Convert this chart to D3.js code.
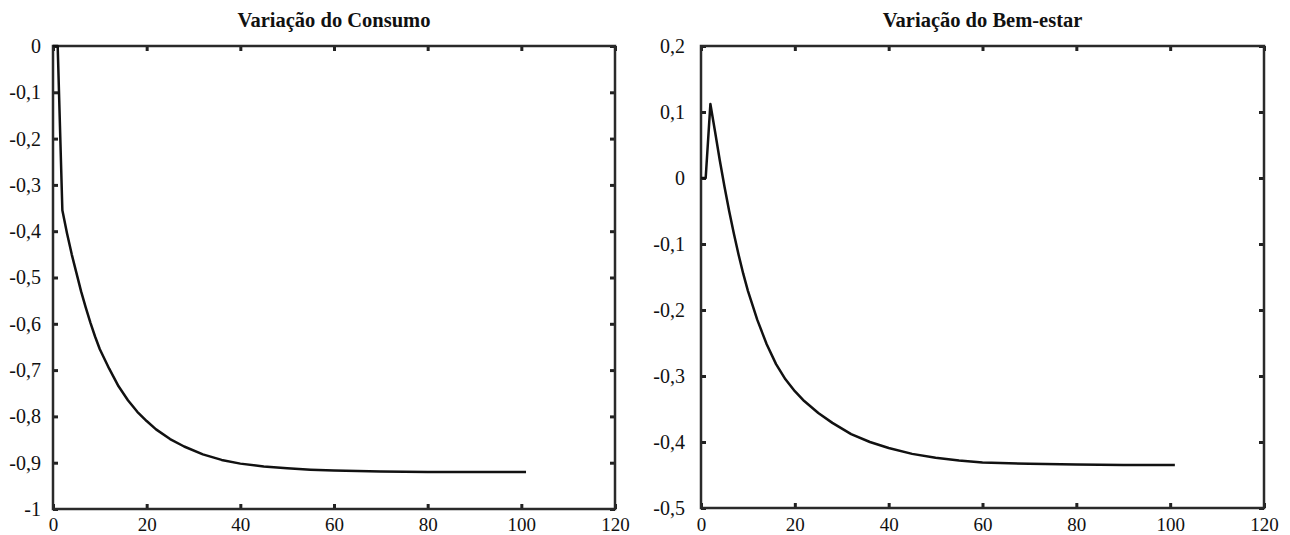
<!DOCTYPE html>
<html>
<head>
<meta charset="utf-8">
<script src="https://cdn.jsdelivr.net/npm/d3@7"></script>
<style>
  html, body { margin: 0; padding: 0; background: #fff; }
  svg { display: block; }
  text { font-family: "Liberation Serif", serif; fill: #111; }
</style>
</head>
<body>
<svg id="chart" width="1290" height="535"></svg>
<script>
// ---- Data ----
const titles = ["Variação do Consumo", "Variação do Bem-estar"];

const xTicks = [0, 20, 40, 60, 80, 100, 120];
const xTickLabels = ["0", "20", "40", "60", "80", "100", "120"];

const consumoYTicks = [0, -0.1, -0.2, -0.3, -0.4, -0.5, -0.6, -0.7, -0.8, -0.9, -1];
const consumoYTickLabels = ["0", "-0,1", "-0,2", "-0,3", "-0,4", "-0,5", "-0,6", "-0,7", "-0,8", "-0,9", "-1"];

const bemYTicks = [0.2, 0.1, 0, -0.1, -0.2, -0.3, -0.4, -0.5];
const bemYTickLabels = ["0,2", "0,1", "0", "-0,1", "-0,2", "-0,3", "-0,4", "-0,5"];

const consumoX = [0, 1, 2, 3, 4, 5, 6, 7, 8, 9, 10, 12, 14, 16, 18, 20, 22, 25, 28, 32, 36, 40, 45, 50, 55, 60, 70, 80, 90, 101];
const consumoY = [0, 0, -0.355, -0.405, -0.45, -0.49, -0.53, -0.565, -0.598, -0.628, -0.655, -0.697, -0.735, -0.765, -0.79, -0.81, -0.828, -0.849, -0.865, -0.882, -0.894, -0.902, -0.908, -0.912, -0.915, -0.917, -0.919, -0.92, -0.92, -0.92];

const bemX = [0, 1, 2, 3, 4, 5, 6, 7, 8, 9, 10, 12, 14, 16, 18, 20, 22, 25, 28, 32, 36, 40, 45, 50, 55, 60, 70, 80, 90, 101];
const bemY = [0, 0, 0.112, 0.07, 0.027, -0.013, -0.05, -0.084, -0.116, -0.145, -0.171, -0.215, -0.252, -0.282, -0.305, -0.323, -0.338, -0.356, -0.371, -0.388, -0.4, -0.409, -0.418, -0.424, -0.428, -0.431, -0.433, -0.434, -0.435, -0.435];

// ---- Layout ----
const svg = d3.select("#chart");
const panels = [
  { title: titles[0], x0: 53, x1: 615, y0: 46, y1: 509, yDomain: [-1, 0], yPad: 12,
    yTicks: consumoYTicks, yLabels: consumoYTickLabels, xs: consumoX, ys: consumoY },
  { title: titles[1], x0: 701, x1: 1264, y0: 46, y1: 508, yDomain: [-0.5, 0.2], yPad: 16,
    yTicks: bemYTicks, yLabels: bemYTickLabels, xs: bemX, ys: bemY }
];

panels.forEach(p => {
  const x = d3.scaleLinear().domain([0, 120]).range([p.x0, p.x1]);
  const y = d3.scaleLinear().domain(p.yDomain).range([p.y1, p.y0]);
  const g = svg.append("g");

  const xLab = v => xTickLabels[xTicks.indexOf(v)];
  const yLab = v => p.yLabels[p.yTicks.indexOf(v)];

  const gb = g.append("g").attr("transform", `translate(0,${p.y1})`)
    .call(d3.axisBottom(x).tickValues(xTicks).tickFormat(xLab).tickSize(-5).tickPadding(531 - p.y1 - 13.5));
  const gt = g.append("g").attr("transform", `translate(0,${p.y0})`)
    .call(d3.axisTop(x).tickValues(xTicks).tickFormat("").tickSize(-5));
  const gl = g.append("g").attr("transform", `translate(${p.x0},0)`)
    .call(d3.axisLeft(y).tickValues(p.yTicks).tickFormat(yLab).tickSize(-5).tickPadding(p.yPad));
  const gr = g.append("g").attr("transform", `translate(${p.x1},0)`)
    .call(d3.axisRight(y).tickValues(p.yTicks).tickFormat("").tickSize(-5));

  [gb, gt, gl, gr].forEach(a => {
    a.attr("font-family", null);
    a.select(".domain").remove();
    a.selectAll(".tick line").attr("stroke", "#222").attr("stroke-width", 3);
    a.selectAll(".tick text").attr("font-size", 20).attr("fill", "#111");
  });
  gb.selectAll(".tick text").attr("font-size", 19);

  g.append("rect")
    .attr("x", p.x0).attr("y", p.y0)
    .attr("width", p.x1 - p.x0).attr("height", p.y1 - p.y0)
    .attr("fill", "none").attr("stroke", "#2a2a2a").attr("stroke-width", 2.5);

  const pts = p.xs.map((v, i) => [v, p.ys[i]]);
  g.append("path")
    .datum(pts)
    .attr("fill", "none")
    .attr("stroke", "#111")
    .attr("stroke-width", 2.5)
    .attr("stroke-linejoin", "round")
    .attr("d", d3.line().x(d => x(d[0])).y(d => y(d[1])).curve(d3.curveLinear));

  g.append("text")
    .attr("x", (p.x0 + p.x1) / 2)
    .attr("y", 27)
    .attr("text-anchor", "middle")
    .attr("font-weight", "bold")
    .attr("font-size", 20.5)
    .text(p.title);
});
</script>
</body>
</html>
